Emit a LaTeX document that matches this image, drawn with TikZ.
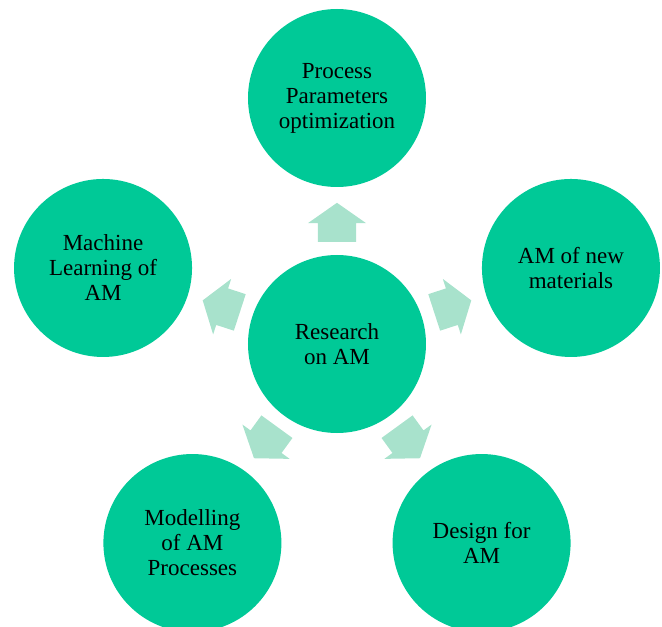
\documentclass[tikz,border=0pt]{standalone}
\usepackage{fontspec}
\setmainfont{Liberation Serif}
\usetikzlibrary{shapes.arrows}
\definecolor{amgreen}{RGB}{0,201,151}
\definecolor{amlight}{RGB}{168,226,204}
\begin{document}
\begin{tikzpicture}
	[x=1pt,y=1pt,every node/.style={circle, fill=amgreen, minimum size=178pt, inner sep=0pt, align=center, text=black, font=\fontsize{23}{25}\selectfont}]
	\tikzstyle{arr} = [single arrow, fill=amlight, inner xsep=0pt, inner ysep=19pt, minimum height=39pt, minimum width=58pt, single arrow head extend=10pt, single arrow tip angle=110, anchor=tail];
	\useasboundingbox (-337,-283) rectangle (325,344);
	
	\node[] (c0) at (0,0) {Research\\on AM};
	\node[] (c1) at (90:246) {Process\\Parameters\\optimization};
	\node[] (c2) at (18:246) {AM of new\\materials};
	\node[] (c3) at (-54:246) {Design for\\AM};
	\node[] (c4) at (-126:246) {Modelling\\of AM\\Processes};
	\node[] (c5) at (162:246) {Machine\\Learning of\\AM};
	
	\node[arr, rotate=90] (a1) at (90:102) {};
	\node[arr, rotate=18] (a2) at (18:102) {};
	\node[arr, rotate=-54] (a3) at (-54:102) {};
	\node[arr, rotate=-126] (a4) at (-126:102) {};
	\node[arr, rotate=162] (a5) at (162:102) {};
\end{tikzpicture}
\end{document}
